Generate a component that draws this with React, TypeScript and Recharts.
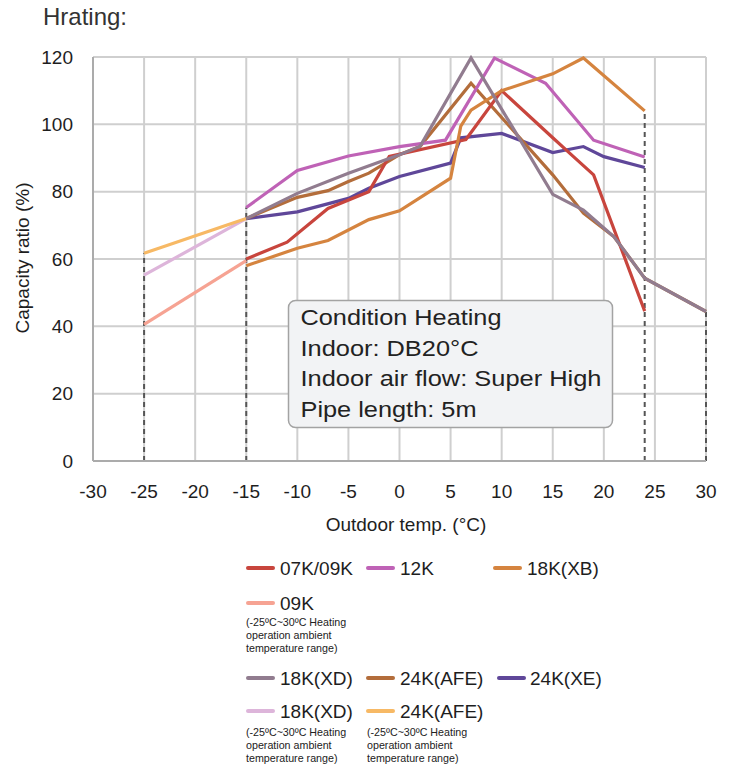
import React from 'react';
import { LineChart, Line, XAxis, YAxis, CartesianGrid, ReferenceLine } from 'recharts';

// ---- axis ticks ----
const xTicks = [-30, -25, -20, -15, -10, -5, 0, 5, 10, 15, 20, 25, 30];
const yTicks = [0, 20, 40, 60, 80, 100, 120];

// ---- series values (outdoor temp, capacity ratio %) ----
const k0709X = [-15, -11, -7, -3, -1, 6.5, 10, 15, 17, 19, 24];
const k0709Y = [60, 65, 75, 80, 90.5, 95.5, 110, 96, 90.5, 85, 44.5];

const k12X = [-15, -10, -5, 0, 4.5, 9.3, 14.3, 19, 24];
const k12Y = [75.3, 86.3, 90.6, 93.4, 95.3, 119.7, 112.2, 95.3, 90.3];

const k18xbX = [-15, -10, -7, -3, 0, 5, 6, 7, 10, 15, 18, 24];
const k18xbY = [58, 63.2, 65.5, 71.7, 74.3, 84, 99.5, 104.2, 110, 115, 119.7, 104];

const k09extX = [-25, -15];
const k09extY = [40.6, 59.5];

const k18xdX = [-15, -10, -5, 0, 2, 7, 15, 18, 21, 24, 30];
const k18xdY = [72, 79.5, 85.5, 91, 93.4, 119.7, 79.2, 74.5, 66.6, 54.3, 44.4];

const k24afeX = [-15, -10, -7, -5, -3, 0, 2, 7, 15, 18, 21, 24, 30];
const k24afeY = [72, 78.3, 80.3, 83, 85.5, 91, 93.4, 112.2, 85, 73.6, 66.6, 54.3, 44.4];

const k24xeX = [-15, -10, -5, -3, 0, 5, 6, 10, 15, 18, 20, 24];
const k24xeY = [72, 74, 78, 81, 84.5, 88.5, 96, 97.3, 91.6, 93.4, 90.4, 87.2];

const k18xdExtX = [-25, -15];
const k18xdExtY = [55.2, 72];

const k24afeExtX = [-25, -15];
const k24afeExtY = [61.7, 72];

// dashed range markers: [x, top value]
const markerX = [-25, -15, 24, 30];
const markerTop = [61.7, 75.3, 104, 44.4];

const pts = (xs: number[], ys: number[]) => xs.map((x, i) => ({ x, y: ys[i] }));

const C = {
  red: '#C8453D',
  pink: '#BF62B6',
  orange: '#D5843F',
  salmon: '#F6A393',
  gray: '#917C8F',
  brown: '#B36D3B',
  purple: '#5F4799',
  lpink: '#DDB5DA',
  lorange: '#F7B965',
};

const drawOrder = [
  { key: 'k09ext', d: pts(k09extX, k09extY), c: C.salmon },
  { key: 'k18xdExt', d: pts(k18xdExtX, k18xdExtY), c: C.lpink },
  { key: 'k24afeExt', d: pts(k24afeExtX, k24afeExtY), c: C.lorange },
  { key: 'k24xe', d: pts(k24xeX, k24xeY), c: C.purple },
  { key: 'k24afe', d: pts(k24afeX, k24afeY), c: C.brown },
  { key: 'k0709', d: pts(k0709X, k0709Y), c: C.red },
  { key: 'k12', d: pts(k12X, k12Y), c: C.pink },
  { key: 'k18xb', d: pts(k18xbX, k18xbY), c: C.orange },
  { key: 'k18xd', d: pts(k18xdX, k18xdY), c: C.gray },
];

const FONT = '"Liberation Sans", Arial, sans-serif';
const TXT = '#1E1E1E';

const legendItems = [
  { label: '07K/09K', c: C.red, lx: 246, tx: 280, y: 568 },
  { label: '12K', c: C.pink, lx: 366, tx: 400, y: 568 },
  { label: '18K(XB)', c: C.orange, lx: 493, tx: 527, y: 568 },
  { label: '09K', c: C.salmon, lx: 246, tx: 280, y: 603 },
  { label: '18K(XD)', c: C.gray, lx: 246, tx: 280, y: 678 },
  { label: '24K(AFE)', c: C.brown, lx: 366, tx: 400, y: 678 },
  { label: '24K(XE)', c: C.purple, lx: 497, tx: 530, y: 678 },
  { label: '18K(XD)', c: C.lpink, lx: 246, tx: 280, y: 711 },
  { label: '24K(AFE)', c: C.lorange, lx: 366, tx: 400, y: 711 },
];

const noteLines = ['(-25ºC~30ºC Heating', 'operation ambient', 'temperature range)'];
const notes = [
  { x: 246, y: 626 },
  { x: 246, y: 736 },
  { x: 367, y: 736 },
];

const boxLines = ['Condition Heating', 'Indoor: DB20°C', 'Indoor air flow: Super High', 'Pipe length: 5m'];
const boxWidths = [201, 178, 301, 176];

export default function App() {
  return (
    <div style={{ position: 'fixed', left: 0, top: 0, width: 733, height: 768, background: '#fff', fontFamily: FONT }}>
      <div style={{ position: 'absolute', left: 0, top: 0 }}>
        <LineChart width={733} height={540} margin={{ top: 57, right: 27, left: 0, bottom: 39 }}>
          <CartesianGrid stroke="#CFCFCF" strokeWidth={2} />
          <XAxis
            type="number"
            dataKey="x"
            domain={[-30, 30]}
            ticks={xTicks}
            interval={0}
            allowDecimals={false}
            tickLine={false}
            tickSize={0}
            tickMargin={24}
            height={40}
            axisLine={{ stroke: '#ABABAB', strokeWidth: 2 }}
            tick={{ fontSize: 19, fill: TXT, fontFamily: FONT }}
          />
          <YAxis
            type="number"
            dataKey="y"
            domain={[0, 120]}
            ticks={yTicks}
            interval={0}
            tickLine={false}
            tickSize={0}
            tickMargin={20}
            width={93}
            axisLine={{ stroke: '#ABABAB', strokeWidth: 2 }}
            tick={{ fontSize: 19, fill: TXT, fontFamily: FONT }}
          />
          {markerX.map((mx, i) => (
            <ReferenceLine
              key={'m' + i}
              segment={[{ x: mx, y: 0 }, { x: mx, y: markerTop[i] }]}
              stroke="#555555"
              strokeWidth={2}
              strokeDasharray="5 4"
            />
          ))}
          {drawOrder.map((s) => (
            <Line
              key={s.key}
              data={s.d}
              dataKey="y"
              type="linear"
              stroke={s.c}
              strokeWidth={3.2}
              dot={false}
              activeDot={false}
              isAnimationActive={false}
            />
          ))}
        </LineChart>
      </div>
      <svg width={733} height={768} style={{ position: 'absolute', left: 0, top: 0, pointerEvents: 'none' }} fontFamily={FONT}>
        <text x={43} y={25} fontSize={24} fill="#333">Hrating:</text>
        <text transform="translate(29,258) rotate(-90)" textAnchor="middle" fontSize={19} fill={TXT}>Capacity ratio (%)</text>
        <text x={406} y={531} textAnchor="middle" fontSize={19} fill={TXT}>Outdoor temp. (°C)</text>

        <rect x={288.5} y={300.5} width={324} height={127} rx={7} ry={7} fill="#F2F3F5" stroke="#A3A3A3" strokeWidth={1.5} />
        {boxLines.map((t, i) => (
          <text
            key={'b' + i}
            x={300.5}
            y={325 + i * 30.6}
            fontSize={22}
            fill="#222"
            textLength={boxWidths[i]}
            lengthAdjust="spacingAndGlyphs"
          >
            {t}
          </text>
        ))}

        {legendItems.map((it, i) => (
          <g key={'l' + i}>
            <line x1={it.lx + 2} x2={it.lx + 27} y1={it.y} y2={it.y} stroke={it.c} strokeWidth={4} strokeLinecap="round" />
            <text x={it.tx} y={it.y + 7} fontSize={19} fill={TXT}>{it.label}</text>
          </g>
        ))}
        {notes.map((n, i) => (
          <g key={'n' + i}>
            {noteLines.map((t, j) => (
              <text key={j} x={n.x} y={n.y + j * 13} fontSize={10.7} fill="#222">{t}</text>
            ))}
          </g>
        ))}
      </svg>
    </div>
  );
}
